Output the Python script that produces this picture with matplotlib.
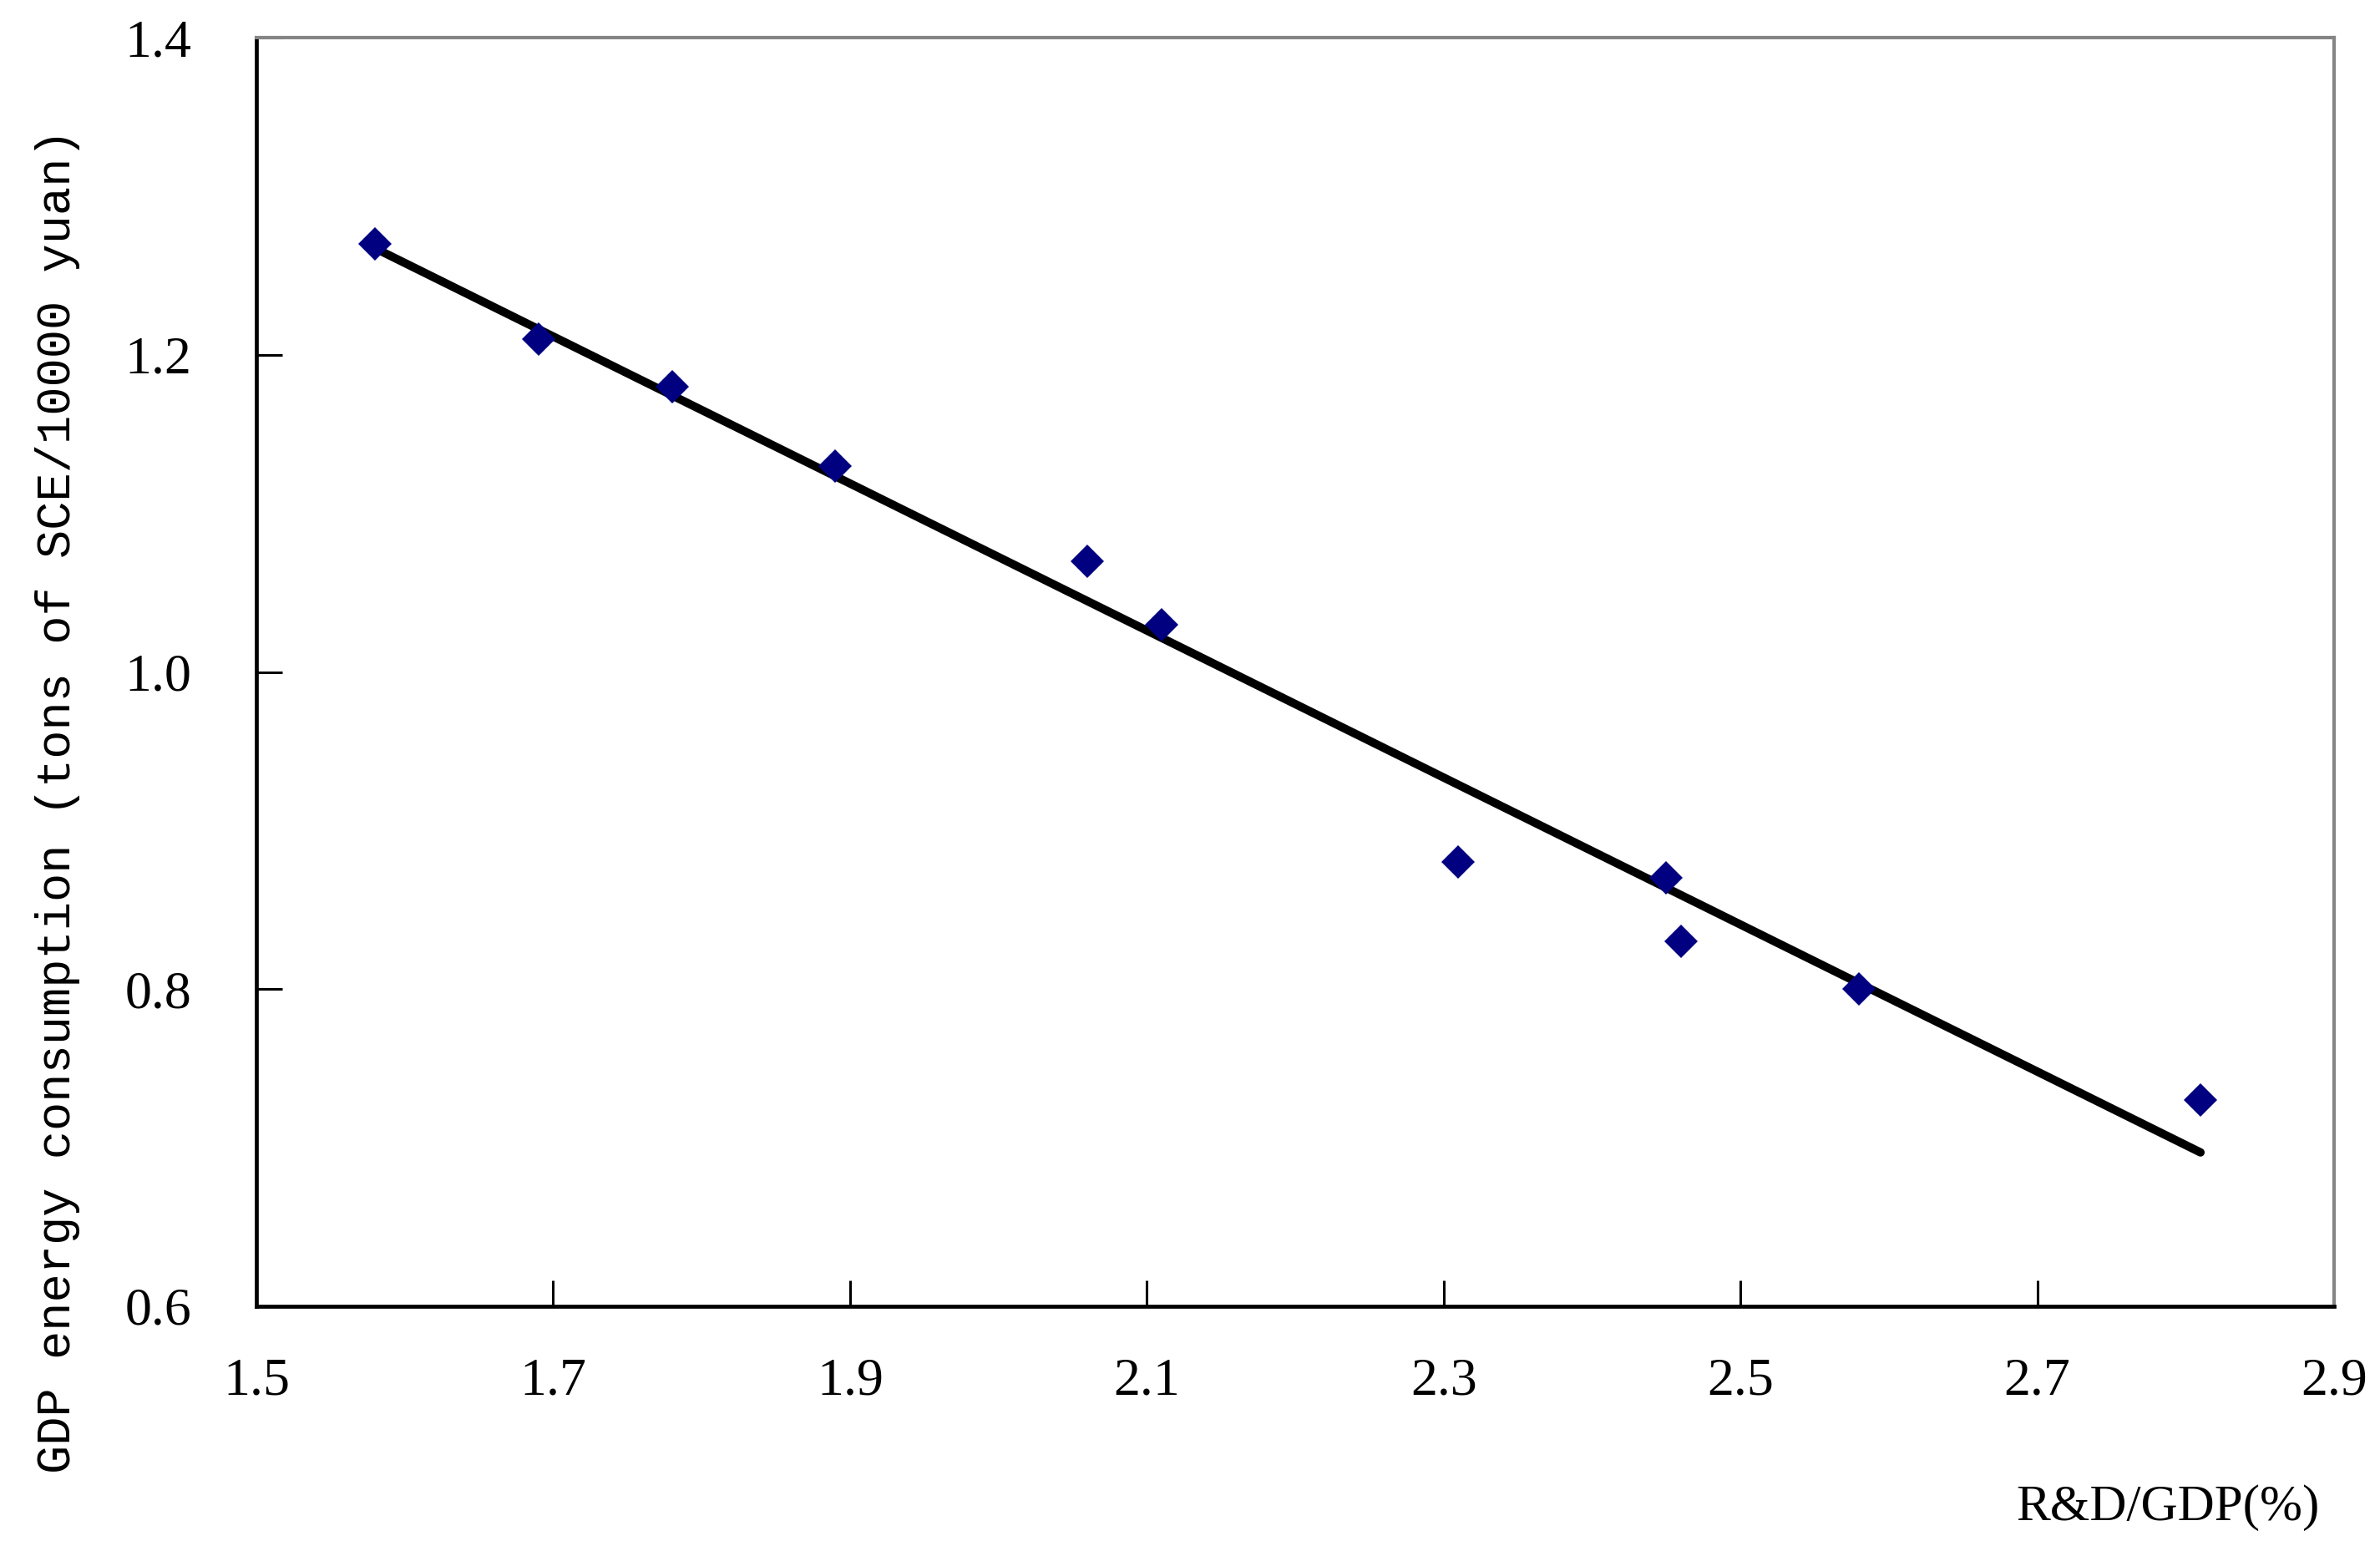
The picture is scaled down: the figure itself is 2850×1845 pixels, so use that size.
#!/usr/bin/env python3
import matplotlib
matplotlib.use("Agg")
import matplotlib.pyplot as plt
import numpy as np

# R&D/GDP (%) vs GDP energy consumption
rd_gdp = [1.58, 1.69, 1.78, 1.89, 2.06, 2.11, 2.31, 2.45, 2.46, 2.58, 2.81]
energy = [1.27, 1.21, 1.18, 1.13, 1.07, 1.03, 0.88, 0.87, 0.83, 0.80, 0.73]

x_ticks = [1.5, 1.7, 1.9, 2.1, 2.3, 2.5, 2.7, 2.9]
y_ticks = [0.6, 0.8, 1.0, 1.2, 1.4]

x_label = "R&D/GDP(%)"
y_label = "GDP energy consumption (tons of SCE/10000 yuan)"


def main() -> None:
    fig = plt.figure(figsize=(28.5, 18.45), dpi=100)
    ax = fig.add_axes([307 / 2850, 1 - 1564 / 1845, (2795 - 307) / 2850, (1564 - 45) / 1845])

    # linear trend line
    slope, intercept = np.polyfit(rd_gdp, energy, 1)
    xs = np.array([min(rd_gdp), max(rd_gdp)])
    ax.plot(xs, slope * xs + intercept, color="black", lw=7.2,
            solid_capstyle="round", zorder=2)

    ax.plot(rd_gdp, energy, linestyle="none", marker="D", markersize=20,
            color="#000080", markeredgewidth=0, zorder=3)

    ax.set_xlim(1.5, 2.9)
    ax.set_ylim(0.6, 1.4)
    ax.set_xticks(x_ticks)
    ax.set_yticks(y_ticks)
    ax.set_xticklabels([f"{v:.1f}" for v in x_ticks])
    ax.set_yticklabels([f"{v:.1f}" for v in y_ticks])

    ax.tick_params(direction="in", length=22, width=2.2, colors="black")
    ax.tick_params(axis="x", pad=44)
    ax.tick_params(axis="y", pad=56)
    for lab in ax.get_xticklabels() + ax.get_yticklabels():
        lab.set_fontfamily("Liberation Serif")
        lab.set_fontsize(46)

    ax.spines["left"].set_color("black")
    ax.spines["bottom"].set_color("black")
    ax.spines["left"].set_linewidth(3.4)
    ax.spines["bottom"].set_linewidth(3.4)
    ax.spines["top"].set_color("#858585")
    ax.spines["right"].set_color("#858585")
    ax.spines["top"].set_linewidth(3.0)
    ax.spines["right"].set_linewidth(3.0)

    fig.text(69 / 2850, 1 - 959 / 1845, y_label, rotation=90, ha="center",
             va="center", fontsize=41, family="Liberation Mono")
    fig.text(2596 / 2850, 1 - 1805 / 1845, x_label, ha="center", va="center",
             fontsize=44, family="Liberation Serif")

    fig.savefig("out.png", dpi=100, facecolor="white")
    plt.close(fig)


if __name__ == "__main__":
    main()
